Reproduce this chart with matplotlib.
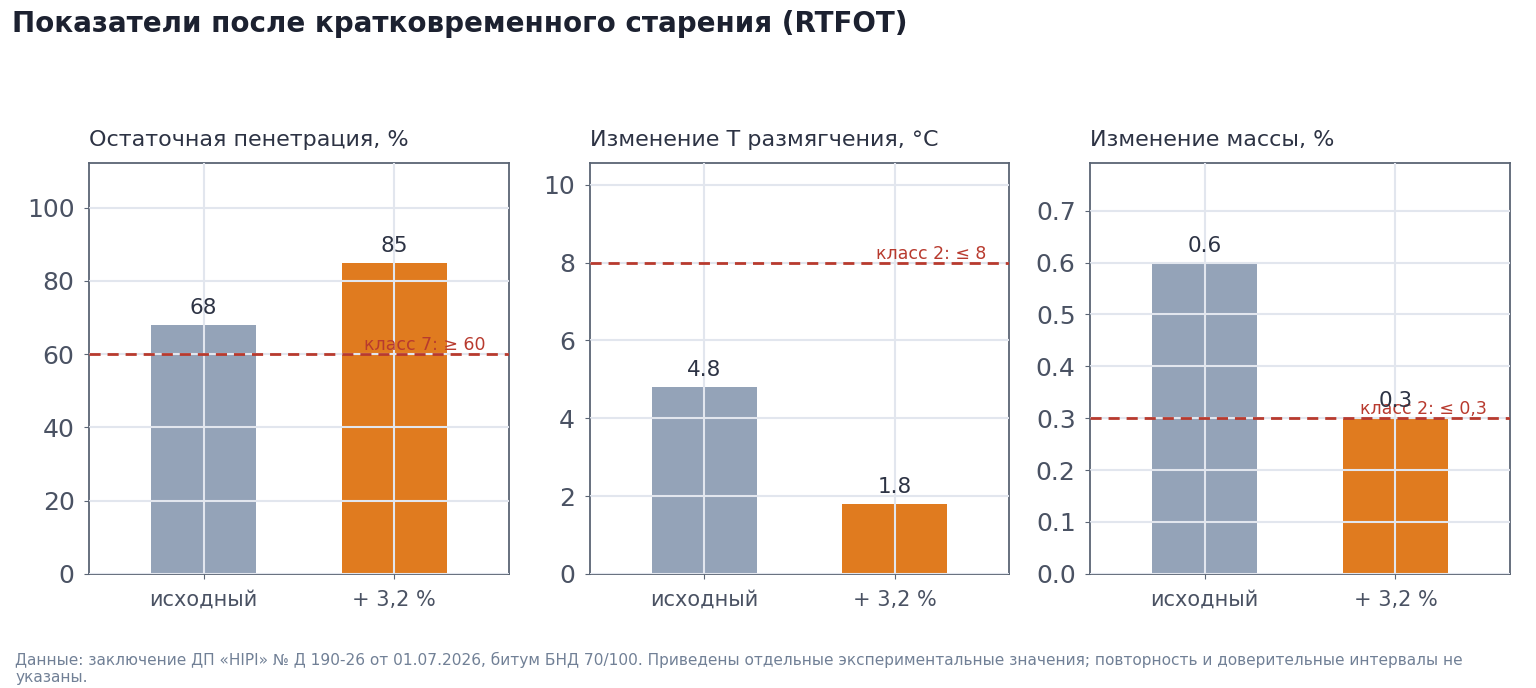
import matplotlib
matplotlib.use("Agg")
import matplotlib.pyplot as plt

# data
groups = ["исходный", "+ 3,2 %"]
panel_titles = ["Остаточная пенетрация, %", "Изменение Т размягчения, °C", "Изменение массы, %"]
values = [[68, 85], [4.8, 1.8], [0.6, 0.3]]
value_labels = [["68", "85"], ["4.8", "1.8"], ["0.6", "0.3"]]
limits = [60, 8, 0.3]
limit_labels = ["класс 7: ≥ 60", "класс 2: ≤ 8", "класс 2: ≤ 0,3"]
yticks = [[0, 20, 40, 60, 80, 100], [0, 2, 4, 6, 8, 10], [0, 0.1, 0.2, 0.3, 0.4, 0.5, 0.6, 0.7]]

bar_colors = ["#94a3b8", "#e07b1f"]
red = "#b83a2e"
spine_col = "#5a6474"

fig, axes = plt.subplots(1, 3, figsize=(15.36, 6.88), dpi=100)
fig.subplots_adjust(left=0.058, right=0.983, top=0.763, bottom=0.166, wspace=0.193)

for i, ax in enumerate(axes):
    x = list(range(len(groups)))
    ax.bar(x, values[i], width=0.55, color=bar_colors, zorder=1)
    ax.grid(True, color="#e2e6ee", linewidth=1.5, zorder=2)
    ax.set_axisbelow(False)
    ax.axhline(limits[i], color=red, linestyle="--", linewidth=2, dashes=(4, 2.5), zorder=3)
    ax.text(1.48, limits[i], limit_labels[i], color=red, fontsize=12.5,
            ha="right", va="bottom", zorder=4)
    for xi, v, lab in zip(x, values[i], value_labels[i]):
        ax.annotate(lab, (xi, v), xytext=(0, 5), textcoords="offset points",
                    ha="center", va="bottom", fontsize=15.5, color="#2d3344", zorder=4)
    top = max(max(values[i]), limits[i]) * 1.32
    ax.set_ylim(0, top)
    ax.set_xlim(-0.6, 1.6)
    ax.set_yticks(yticks[i])
    ax.set_xticks(x)
    ax.set_xticklabels(groups)
    ax.tick_params(axis="y", labelsize=18, colors=spine_col, labelcolor="#4a5263", pad=7)
    ax.tick_params(axis="x", labelsize=15, colors=spine_col, labelcolor="#4a5263", pad=8)
    for s in ax.spines.values():
        s.set_color(spine_col)
        s.set_linewidth(1.3)
    ax.set_title(panel_titles[i], loc="left", fontsize=16, color="#2d3344", pad=12)

fig.text(0.008, 0.965, "Показатели после кратковременного старения (RTFOT)",
         fontsize=20, fontweight="bold", color="#1c2130", ha="left", va="center")
fig.text(0.010, 0.052, "Данные: заключение ДП «HIPI» № Д 190-26 от 01.07.2026, битум БНД 70/100. "
         "Приведены отдельные экспериментальные значения; повторность и доверительные интервалы не\nуказаны.",
         fontsize=11.1, color="#718096", ha="left", va="top", linespacing=1.15)

fig.savefig("out.png", dpi=100)
